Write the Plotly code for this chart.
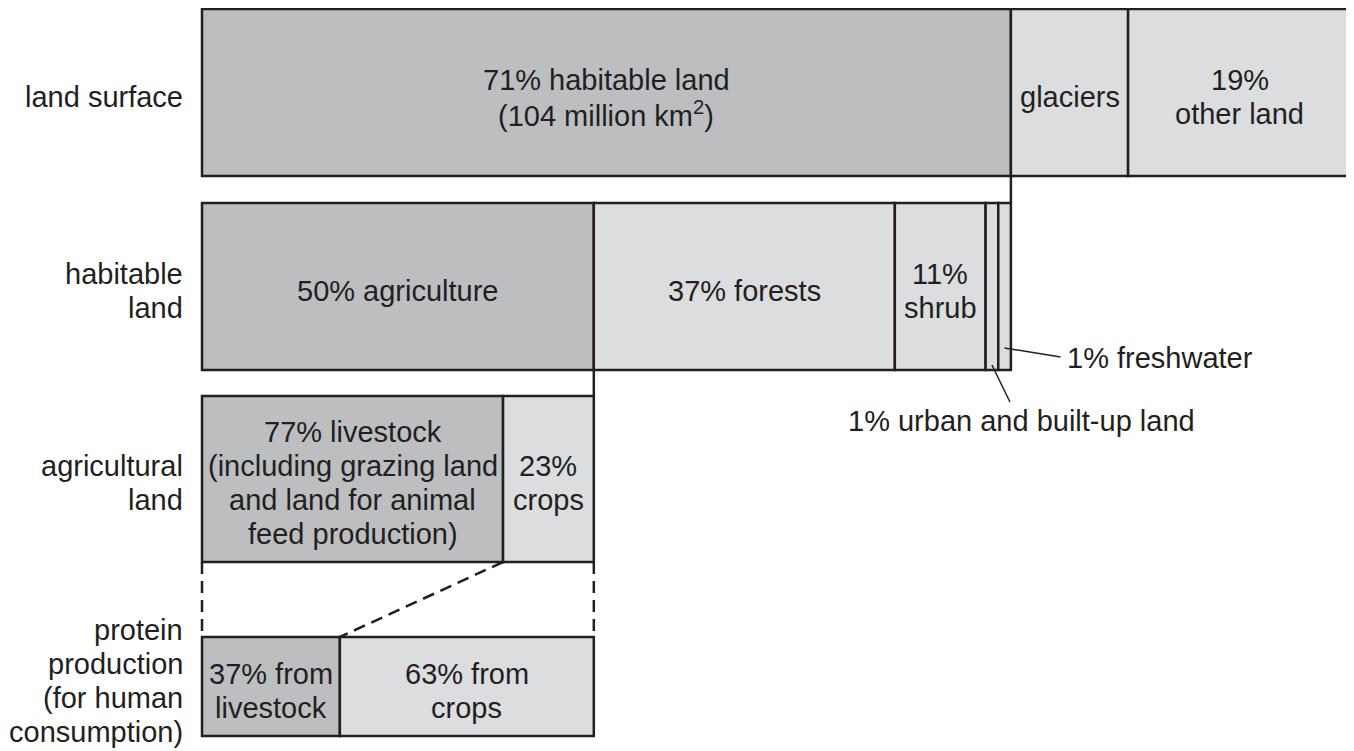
import numpy as np
import plotly.graph_objects as go

# ---------------- data ----------------
row_labels = ["land surface", "habitable<br>land", "agricultural<br>land",
              "protein<br>production<br>(for human<br>consumption)"]

land_labels = ["71% habitable land<br>(104 million km<sup>2</sup>)", "glaciers", "19%<br>other land"]
land_widths = [70.4, 10.2, 19.4]

habitable_labels = ["50% agriculture", "37% forests", "11%<br>shrub", "", ""]
habitable_widths = [34.1, 26.2, 7.9, 1.1, 1.1]

agri_labels = ["77% livestock<br>(including grazing land<br>and land for animal<br>feed production)", "23%<br>crops"]
agri_widths = [26.2, 7.9]

protein_labels = ["37% from<br>livestock", "63% from<br>crops"]
protein_widths = [12.0, 22.1]

callout_urban = "1% urban and built-up land"
callout_fresh = "1% freshwater"

# ---------------- style / layout ----------------
INK = "#231f20"
DARK = "#bcbec0"
LIGHT = "#dcdddf"
FONT = "Liberation Sans, Arial, sans-serif"
FS = 29
LS = 34            # line spacing (px)
OFF = 8            # page body margin compensation

row_y = [92.5, 286.5, 479, 686.5]      # row centres (pixel-like y units)
row_h = [167, 167, 166, 99]            # row thickness
label_y = [96.5, 290.5, 483, 681]      # centres of the row-label blocks
text_dy = 4                            # in-bar text offset below bar centre

rows = [
    (land_labels, land_widths, [DARK, LIGHT, LIGHT]),
    (habitable_labels, habitable_widths, [DARK, LIGHT, LIGHT, LIGHT, LIGHT]),
    (agri_labels, agri_widths, [DARK, LIGHT]),
    (protein_labels, protein_widths, [DARK, LIGHT]),
]

fig = go.Figure()
annotations = []


def add_lines(x, yc, text, xanchor="center", xshift=0):
    lines = text.split("<br>")
    n = len(lines)
    for k, line in enumerate(lines):
        if not line:
            continue
        annotations.append(dict(
            xref="x", yref="y", x=x, y=yc + (k - (n - 1) / 2) * LS,
            xshift=xshift, text=line, showarrow=False,
            xanchor=xanchor, yanchor="middle",
            font=dict(size=FS, color=INK, family=FONT)))


for i, (labels, widths, colors) in enumerate(rows):
    widths = np.array(widths, dtype=float)
    bases = np.concatenate([[0.0], np.cumsum(widths)[:-1]])
    fig.add_trace(go.Bar(
        orientation="h",
        y=[row_y[i]] * len(widths),
        x=widths,
        base=bases,
        width=row_h[i],
        marker=dict(color=colors, line=dict(color=INK, width=2.5)),
        hoverinfo="skip",
        showlegend=False,
    ))
    centers = bases + widths / 2
    for c, lab in zip(centers, labels):
        if lab:
            add_lines(c, row_y[i] + text_dy, lab)
    add_lines(0, label_y[i], row_labels[i], xanchor="right", xshift=-17)


def top(i):
    return row_y[i] - row_h[i] / 2


def bottom(i):
    return row_y[i] + row_h[i] / 2


shapes = []
solid = dict(color=INK, width=2.5)
dashed = dict(color=INK, width=2.5, dash="12px,7px")

# solid connectors
hab_end = land_widths[0]
agr_end = habitable_widths[0]
shapes.append(dict(type="line", xref="x", yref="y", x0=hab_end, x1=hab_end,
                   y0=bottom(0), y1=top(1), line=solid))
shapes.append(dict(type="line", xref="x", yref="y", x0=agr_end, x1=agr_end,
                   y0=bottom(1), y1=top(2), line=solid))
# dashed connectors
agri_total = sum(agri_widths)
shapes.append(dict(type="line", xref="x", yref="y", x0=0, x1=0,
                   y0=bottom(2), y1=top(3), line=dashed))
shapes.append(dict(type="line", xref="x", yref="y", x0=agri_total, x1=agri_total,
                   y0=bottom(2), y1=top(3), line=dashed))
shapes.append(dict(type="line", xref="x", yref="y", x0=agri_widths[0], x1=protein_widths[0],
                   y0=bottom(2), y1=top(3), line=dashed))

# callouts for the thin segments
hab_cum = np.cumsum([0.0] + habitable_widths)
urban_c = (hab_cum[3] + hab_cum[4]) / 2
fresh_c = (hab_cum[4] + hab_cum[5]) / 2

shapes.append(dict(type="line", xref="x", yref="y", xsizemode="pixel", xanchor=fresh_c,
                   x0=0, x1=56, y0=348, y1=357, line=dict(color=INK, width=1.5)))
shapes.append(dict(type="line", xref="x", yref="y", xsizemode="pixel", xanchor=urban_c,
                   x0=0, x1=18, y0=365, y1=402, line=dict(color=INK, width=1.5)))

annotations.append(dict(xref="x", yref="y", x=fresh_c, y=358, xshift=60, text=callout_fresh,
                        showarrow=False, xanchor="left", yanchor="middle",
                        font=dict(size=FS, color=INK, family=FONT)))
annotations.append(dict(xref="x", yref="y", x=urban_c, y=421, xshift=30, text=callout_urban,
                        showarrow=False, xanchor="center", yanchor="middle",
                        font=dict(size=FS, color=INK, family=FONT)))

fig.update_layout(
    width=1354, height=751,
    margin=dict(l=200 - OFF, r=1 + OFF, t=0, b=0, pad=0),
    paper_bgcolor="white", plot_bgcolor="white",
    barmode="overlay",
    shapes=shapes,
    annotations=annotations,
    hovermode=False,
    xaxis=dict(range=[-0.174, 100.174], visible=False, fixedrange=True),
    yaxis=dict(range=[751 + OFF, OFF], visible=False, fixedrange=True),
    font=dict(family=FONT, color=INK),
)

fig.write_html("out.html")
